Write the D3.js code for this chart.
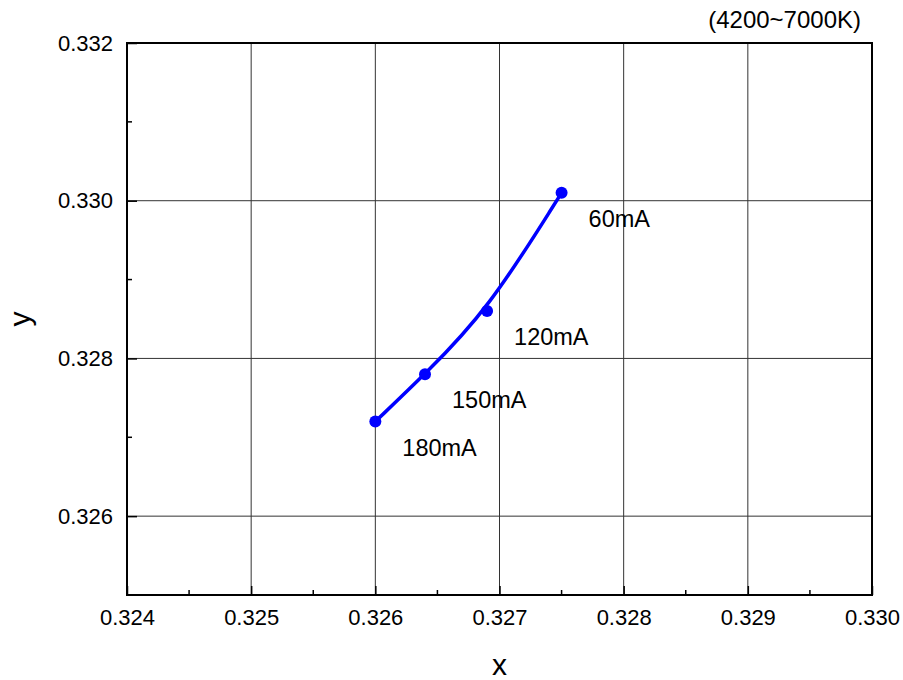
<!DOCTYPE html>
<html>
<head>
<meta charset="utf-8">
<script src="https://cdn.jsdelivr.net/npm/d3@7"></script>
<style>
  body { margin: 0; background: #fff; }
  text { font-family: "Liberation Sans", Arial, sans-serif; }
</style>
</head>
<body>
<div id="chart"></div>
<script>
// Chromaticity points (x, y) at each drive current
const currents = ['60mA', '120mA', '150mA', '180mA'];
const xValues = [0.3275, 0.3269, 0.3264, 0.3260];
const yValues = [0.3301, 0.3286, 0.3278, 0.3272];
const xTicks = [0.324, 0.325, 0.326, 0.327, 0.328, 0.329, 0.330];
const yTicks = [0.326, 0.328, 0.330, 0.332];

const width = 903, height = 680;
const margin = { top: 43, right: 31, bottom: 85, left: 127 };
const innerW = width - margin.left - margin.right;
const innerH = height - margin.top - margin.bottom;

const svg = d3.select('#chart').append('svg')
    .attr('width', width)
    .attr('height', height);

const g = svg.append('g').attr('transform', `translate(${margin.left},${margin.top})`);

const x = d3.scaleLinear().domain([0.324, 0.330]).range([0, innerW]);
const y = d3.scaleLinear().domain([0.325, 0.332]).range([innerH, 0]);

// Grid
g.append('g').selectAll('line')
    .data(xTicks.slice(1, -1))
    .enter().append('line')
    .attr('x1', d => x(d)).attr('x2', d => x(d))
    .attr('y1', 0).attr('y2', innerH)
    .attr('stroke', '#333').attr('stroke-width', 1);
g.append('g').selectAll('line')
    .data(yTicks.filter(d => d < 0.332))
    .enter().append('line')
    .attr('x1', 0).attr('x2', innerW)
    .attr('y1', d => y(d)).attr('y2', d => y(d))
    .attr('stroke', '#333').attr('stroke-width', 1);

// Minor ticks (inward)
const xMinor = d3.range(0.3245, 0.330, 0.001);
const yMinor = [0.325, 0.327, 0.329, 0.331];
g.append('g').selectAll('line')
    .data(xMinor)
    .enter().append('line')
    .attr('x1', d => x(d)).attr('x2', d => x(d))
    .attr('y1', innerH).attr('y2', innerH - 5)
    .attr('stroke', '#000').attr('stroke-width', 1.5);
g.append('g').selectAll('line')
    .data(yMinor)
    .enter().append('line')
    .attr('x1', 0).attr('x2', 5)
    .attr('y1', d => y(d)).attr('y2', d => y(d))
    .attr('stroke', '#000').attr('stroke-width', 1.5);

// Axes with inward major ticks
const xAxis = g.append('g')
    .attr('transform', `translate(0,${innerH})`)
    .call(d3.axisBottom(x).tickValues(xTicks).tickFormat(d3.format('.3f'))
        .tickSizeInner(-9).tickSizeOuter(0).tickPadding(14));
const yAxis = g.append('g')
    .call(d3.axisLeft(y).tickValues(yTicks).tickFormat(d3.format('.3f'))
        .tickSizeInner(-10).tickSizeOuter(0).tickPadding(14));

[xAxis, yAxis].forEach(a => {
    a.select('.domain').remove();
    a.selectAll('.tick line').attr('stroke', '#000').attr('stroke-width', 1.5);
    a.selectAll('.tick text')
        .attr('fill', '#000')
        .style('font-size', '22px')
        .style('font-family', '"Liberation Sans", Arial, sans-serif');
});

// Frame
g.append('rect')
    .attr('x', 0).attr('y', 0)
    .attr('width', innerW).attr('height', innerH)
    .attr('fill', 'none')
    .attr('stroke', '#000')
    .attr('stroke-width', 2);

// Curve
const pts = xValues.map((v, i) => [v, yValues[i]]).sort((a, b) => a[0] - b[0]);
const line = d3.line()
    .x(d => x(d[0]))
    .y(d => y(d[1]))
    .curve(d3.curveBasis);
g.append('path')
    .datum(pts)
    .attr('d', line)
    .attr('fill', 'none')
    .attr('stroke', '#0000ff')
    .attr('stroke-width', 3.5);

// Markers
const points = xValues.map((v, i) => ({ x: v, y: yValues[i], label: currents[i] }));
g.append('g').selectAll('circle')
    .data(points)
    .enter().append('circle')
    .attr('cx', d => x(d.x))
    .attr('cy', d => y(d.y))
    .attr('r', 6)
    .attr('fill', '#0000ff');

// Point labels
g.append('g').selectAll('text')
    .data(points)
    .enter().append('text')
    .attr('x', d => x(d.x) + 27)
    .attr('y', d => y(d.y) + 34)
    .attr('fill', '#000')
    .style('font-size', '23.5px')
    .text(d => d.label);

// Axis titles
svg.append('text')
    .attr('x', margin.left + innerW / 2)
    .attr('y', 675)
    .attr('text-anchor', 'middle')
    .style('font-size', '30px')
    .text('x');
svg.append('text')
    .attr('transform', `translate(30,${margin.top + innerH / 2}) rotate(-90)`)
    .attr('text-anchor', 'middle')
    .style('font-size', '30px')
    .text('y');

// Colour temperature note
svg.append('text')
    .attr('x', 861)
    .attr('y', 28)
    .attr('text-anchor', 'end')
    .style('font-size', '24px')
    .text('(4200~7000K)');
</script>
</body>
</html>
